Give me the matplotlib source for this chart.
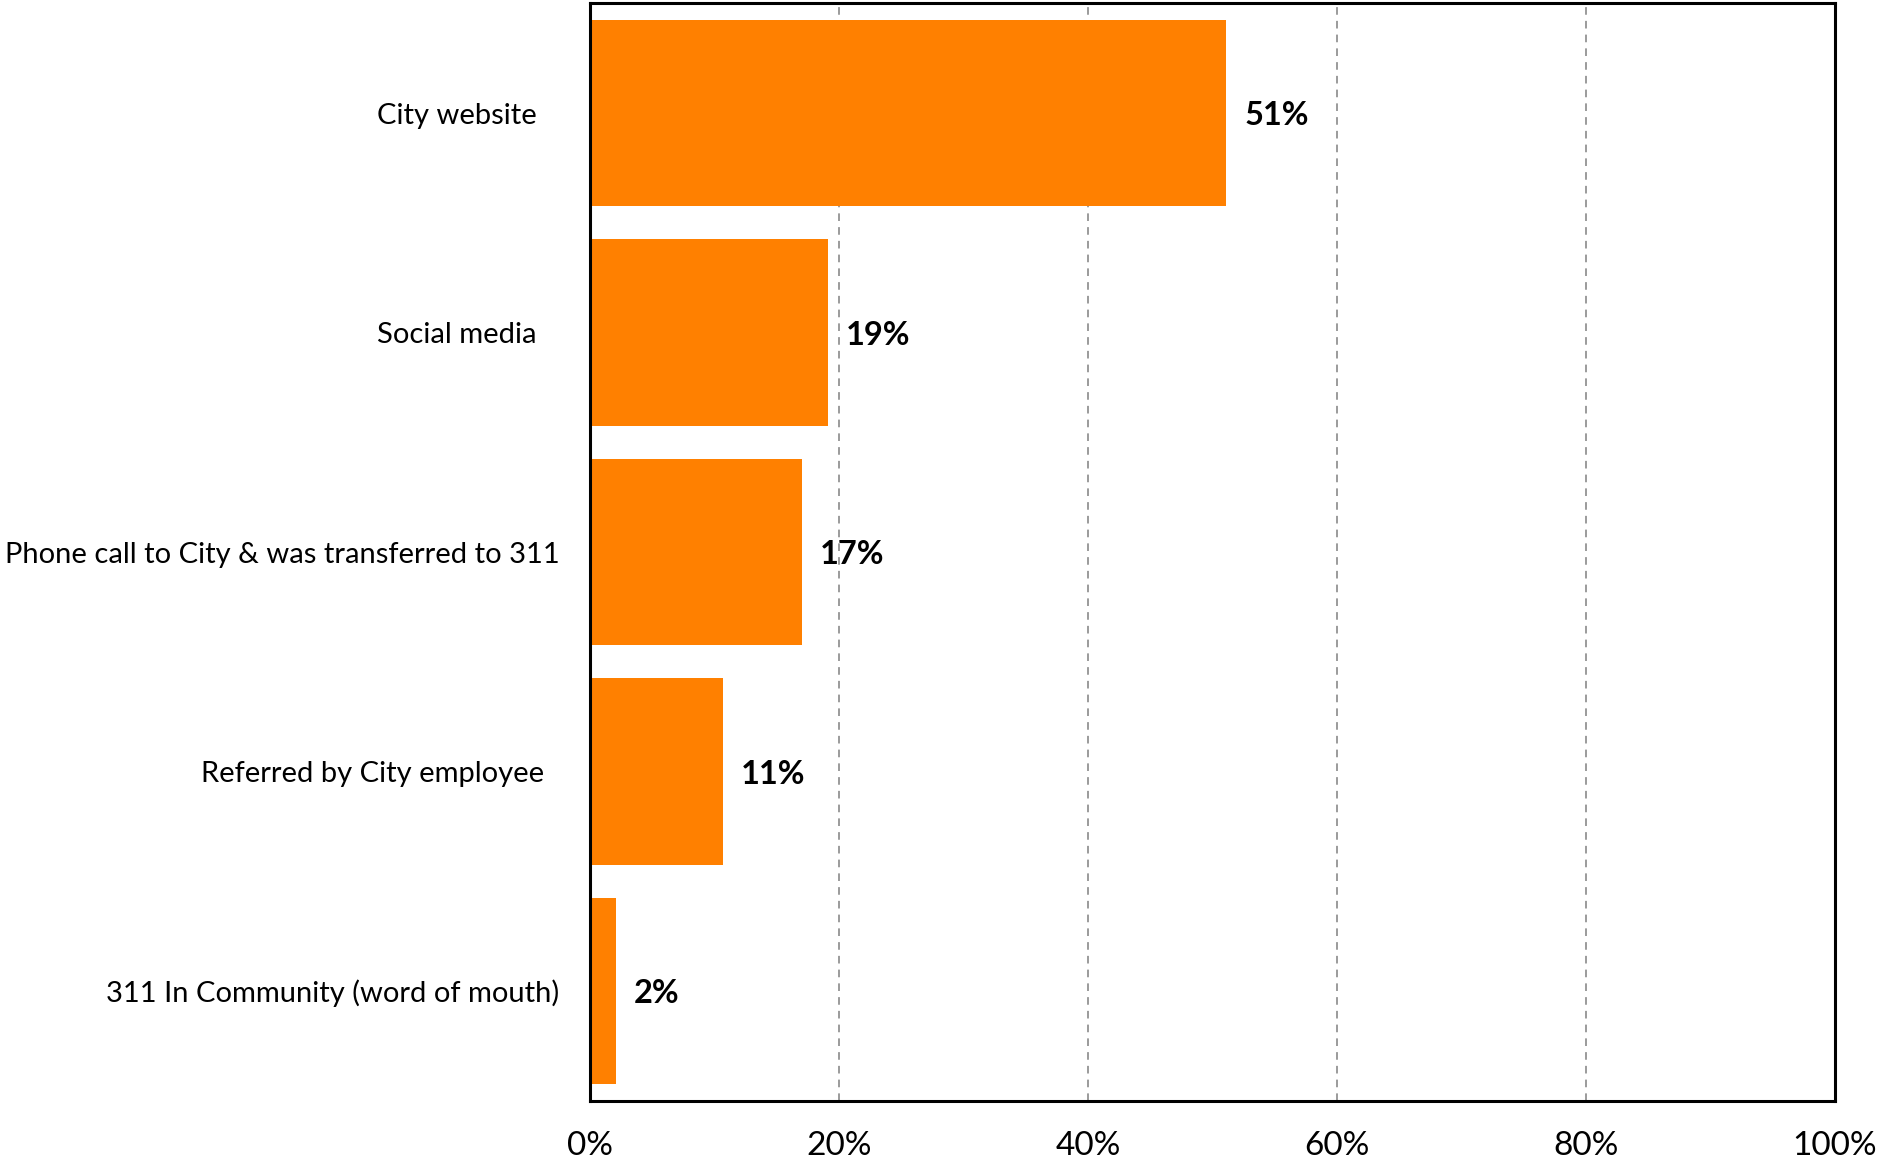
import matplotlib
matplotlib.use("Agg")
import matplotlib.pyplot as plt

# --- data ---
categories = [
    "City website   ",
    "Social media   ",
    "Phone call to City & was transferred to 311",
    "Referred by City employee  ",
    "311 In Community (word of mouth)",
]
values = [51.1, 19.1, 17.0, 10.7, 2.1]
x_ticks = [0, 20, 40, 60, 80, 100]
x_tick_labels = ["0%", "20%", "40%", "60%", "80%", "100%"]

BAR_COLOR = "#FF8000"

plt.rcParams["font.family"] = ["Lato", "DejaVu Sans"]

fig = plt.figure(figsize=(18.79, 11.60), dpi=100)
ax = fig.add_axes([0.314, 0.051, 0.6625, 0.946])

ypos = list(range(len(categories)))
bars = ax.barh(ypos, values, height=0.85, color=BAR_COLOR, zorder=2)

ax.set_ylim(len(categories) - 0.5, -0.5)
ax.set_xlim(0, 100)

ax.set_yticks(ypos)
ax.set_yticklabels(categories, fontsize=21)
ax.set_xticks(x_ticks)
ax.set_xticklabels(x_tick_labels, fontsize=24)
ax.tick_params(axis="y", length=0, pad=22)
ax.tick_params(axis="x", length=0, pad=22)

ax.grid(axis="x", linestyle=(0, (5, 4)), color="#808080", linewidth=1.1, zorder=0)
ax.set_axisbelow(True)

for s in ax.spines.values():
    s.set_linewidth(2.2)
    s.set_color("black")

for b, v in zip(bars, values):
    ax.annotate(f"{round(v)}%", (b.get_width(), b.get_y() + b.get_height() / 2),
                xytext=(13, 0), textcoords="offset points",
                ha="left", va="center_baseline", fontsize=23.5, fontweight="bold")

fig.savefig("out.png", dpi=100, facecolor="white")
